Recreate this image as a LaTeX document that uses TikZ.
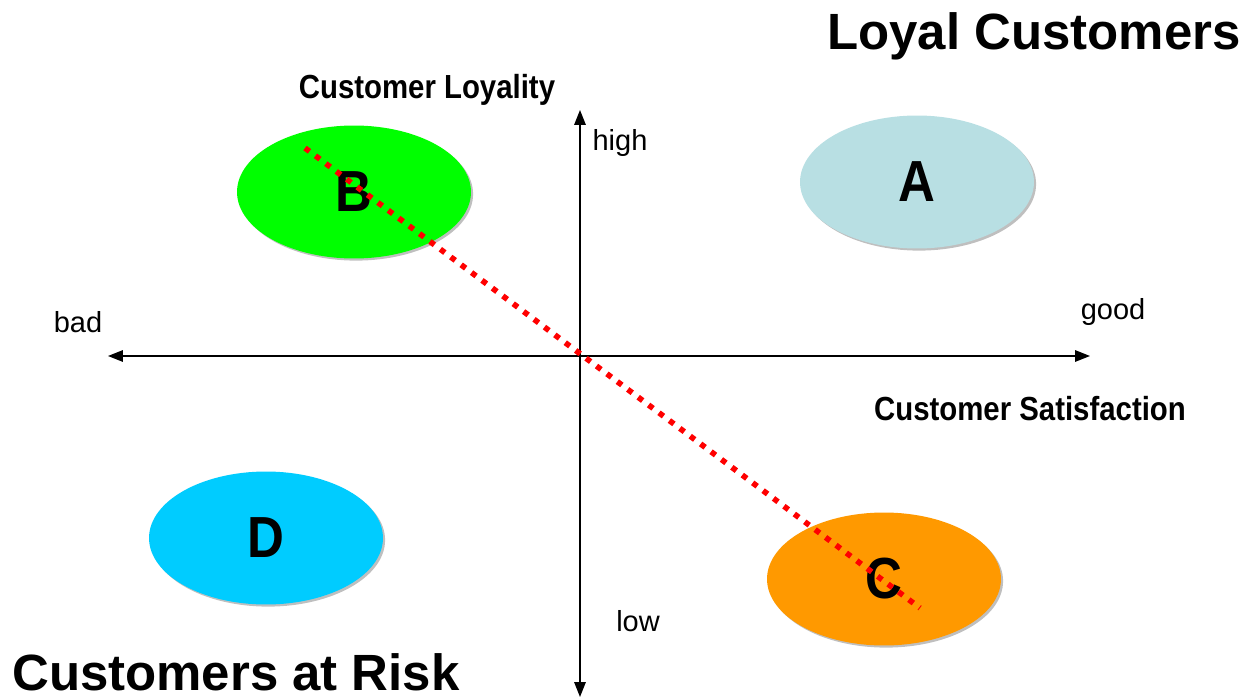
\documentclass[tikz,border=0pt]{standalone}
\usepackage{fontspec}
\setmainfont{Liberation Sans}
\newfontfamily\narrowbf[FakeStretch=0.88]{Liberation Sans Bold}
\usepackage{tikz}
\usetikzlibrary{arrows.meta,shapes.geometric,shadows}

\definecolor{loyalblue}{HTML}{B8DFE3}
\definecolor{riskblue}{HTML}{00CCFF}
\definecolor{brightgreen}{HTML}{00FF00}
\definecolor{warmorange}{HTML}{FF9900}

\tikzset{
  axis/.style={{Triangle[length=8.5pt,width=6.5pt]}-{Triangle[length=8.5pt,width=6.5pt]}, line width=1pt},
  segment/.style={ellipse, minimum width=4.68cm, minimum height=2.66cm, inner sep=0pt,
    drop shadow={shadow xshift=1.2pt, shadow yshift=-1.2pt, opacity=0.5},
    font=\narrowbf\fontsize{33}{36}\selectfont},
  trend/.style={red, line width=3.2pt, dash pattern=on 3.2pt off 4.2pt},
  title/.style={font=\bfseries\fontsize{29}{34}\selectfont},
  axistitle/.style={font=\narrowbf\fontsize{19}{22}\selectfont},
  axisend/.style={font=\fontsize{16.5}{19}\selectfont}
}

\begin{document}
\begin{tikzpicture}[x=0.02cm, y=-0.02cm]
  \useasboundingbox (0,0) rectangle (1255,700);

  % Axis end points
  \coordinate (O) at (580,356);
  \coordinate (W) at (108,356);
  \coordinate (E) at (1090,356);
  \coordinate (N) at (580,110);
  \coordinate (S) at (580,697);

  % Draw axes
  \draw[axis] (W) -- (E);
  \draw[axis] (S) -- (N);

  % Axis labels
  \node[axisend] (high) at (620,143) {high};
  \node[axisend] (low) at (638,621) {low};
  \node[axisend] (bad) at (78,322) {bad};
  \node[axisend] (good) at (1113,312) {good};
  \node[axistitle] (loyality) at (427,90) {Customer Loyality};
  \node[axistitle] (satisfaction) at (1030,409) {Customer Satisfaction};

  % Quadrant segments
  \node[segment, fill=loyalblue] (A) at (917,182) {A};
  \node[segment, fill=brightgreen] (B) at (354,192) {B};
  \node[segment, fill=warmorange] (C) at (884,579) {C};
  \node[segment, fill=riskblue] (D) at (266,538) {D};

  % Trend line through the origin
  \coordinate (t1) at (305,148);
  \coordinate (t2) at (920,608);
  \draw[trend] (t1) -- (t2);

  % Group titles
  \node[title] (loyal) at (1034,36) {Loyal Customers};
  \node[title] (risk) at (236,672) {Customers at Risk};
\end{tikzpicture}
\end{document}
